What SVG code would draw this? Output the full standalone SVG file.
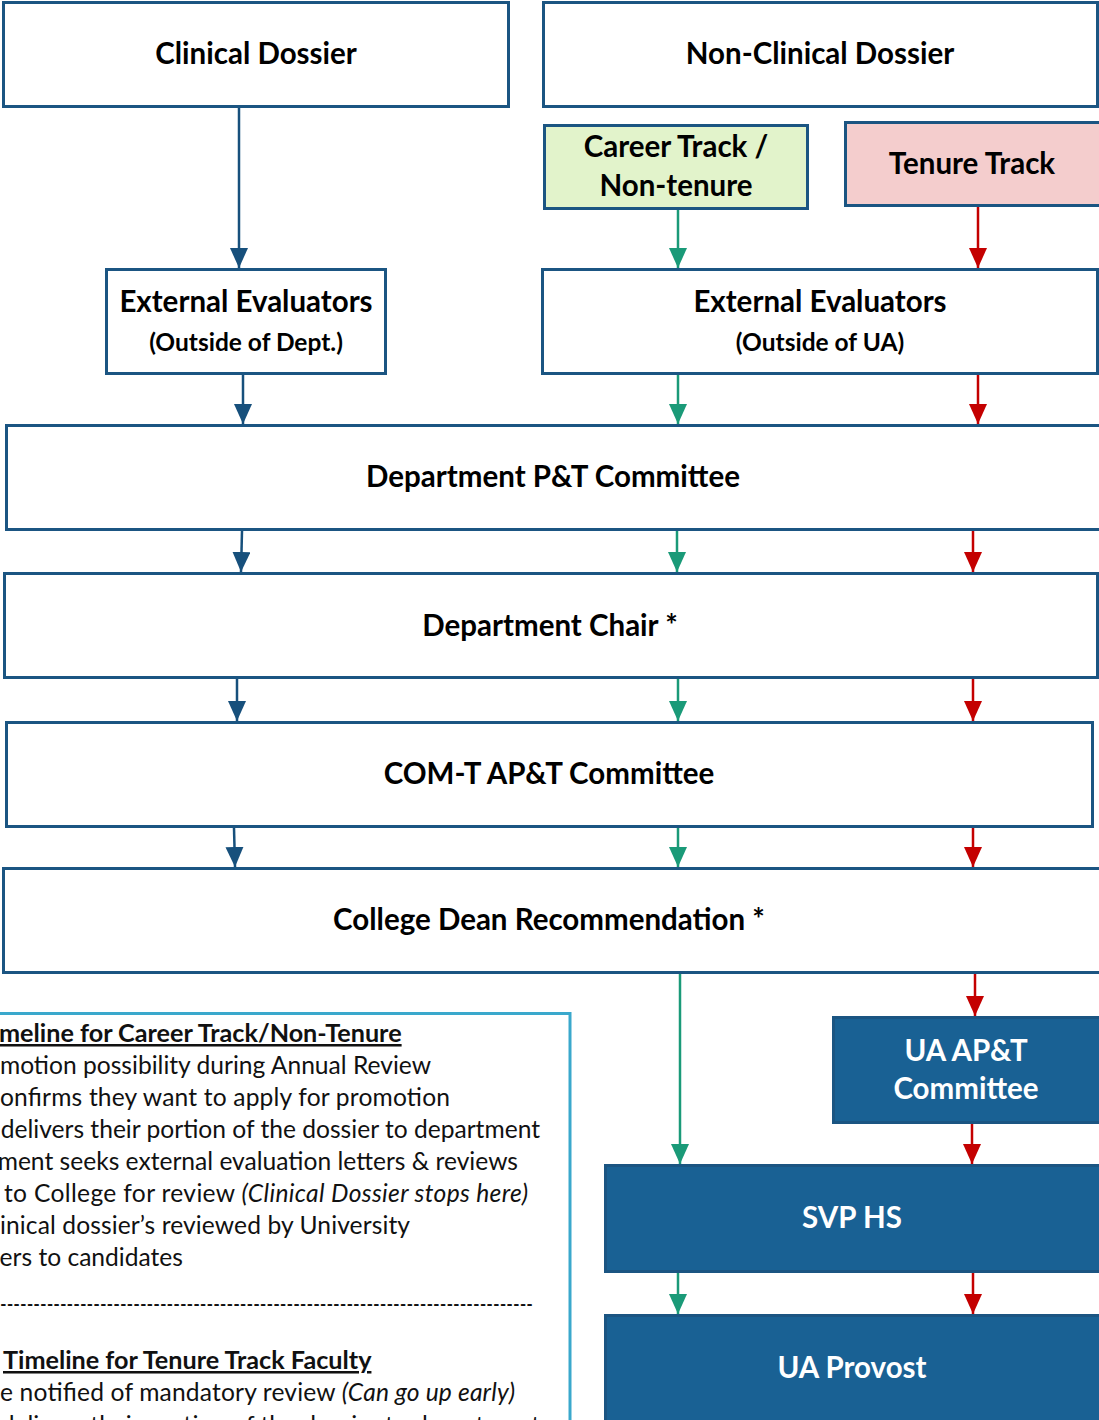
<svg xmlns="http://www.w3.org/2000/svg" width="1099" height="1420" viewBox="0 0 1099 1420">
<style>
.box{fill:#ffffff;stroke:#1b5582;stroke-width:3}
.dark{fill:#196194;stroke:#1b5582;stroke-width:3}
.t{font-family:Lato,"Open Sans",sans-serif;font-weight:bold;font-size:29.5px;fill:#000;text-anchor:middle}
.s{font-family:Lato,"Open Sans",sans-serif;font-weight:bold;font-size:24.5px;fill:#000;text-anchor:middle}
.w{fill:#ffffff}
.b{font-family:Lato,"Open Sans",sans-serif;font-size:24.6px;fill:#111;text-anchor:end}
.bh{font-family:Lato,"Open Sans",sans-serif;font-size:25.2px;font-weight:bold;fill:#111;text-decoration:underline}
.ab{stroke:#17507c;stroke-width:2.5;fill:none;marker-end:url(#mb)}
.ag{stroke:#1a9a78;stroke-width:2.5;fill:none;marker-end:url(#mg)}
.ar{stroke:#c40000;stroke-width:2.5;fill:none;marker-end:url(#mr)}
</style>
<defs>
<marker id="mb" markerUnits="userSpaceOnUse" markerWidth="20" markerHeight="18" refX="20" refY="9" orient="auto" viewBox="0 0 20 18"><path d="M0,0 L20,9 L0,18 z" fill="#17507c"/></marker>
<marker id="mg" markerUnits="userSpaceOnUse" markerWidth="20" markerHeight="18" refX="20" refY="9" orient="auto" viewBox="0 0 20 18"><path d="M0,0 L20,9 L0,18 z" fill="#1a9a78"/></marker>
<marker id="mr" markerUnits="userSpaceOnUse" markerWidth="20" markerHeight="18" refX="20" refY="9" orient="auto" viewBox="0 0 20 18"><path d="M0,0 L20,9 L0,18 z" fill="#c40000"/></marker>
</defs>

<g id="clinical-dossier"><rect class="box" x="3.5" y="2.5" width="505" height="104"/><text class="t" x="256" y="64">Clinical Dossier</text></g>
<g id="non-clinical-dossier"><rect class="box" x="543.5" y="2.5" width="554" height="104"/><text class="t" x="820" y="64">Non-Clinical Dossier</text></g>
<g id="career-track"><rect x="544.5" y="125.5" width="263" height="83" fill="#e2f3cb" stroke="#1b5582" stroke-width="3"/><text class="t" x="676" y="157">Career Track /</text><text class="t" x="676" y="196">Non-tenure</text></g>
<g id="tenure-track"><rect x="845.5" y="122.5" width="256" height="83" fill="#f4cdcd" stroke="#1b5582" stroke-width="3"/><text class="t" x="972" y="174">Tenure Track</text></g>
<g id="ext-eval-dept"><rect class="box" x="106.5" y="269.5" width="279" height="104"/><text class="t" x="246" y="312">External Evaluators</text><text class="s" x="246" y="351">(Outside of Dept.)</text></g>
<g id="ext-eval-ua"><rect class="box" x="542.5" y="269.5" width="555" height="104"/><text class="t" x="820" y="312">External Evaluators</text><text class="s" x="820" y="351">(Outside of UA)</text></g>
<g id="dept-pt"><rect class="box" x="6.5" y="425.5" width="1098" height="104"/><text class="t" x="553" y="487">Department P&amp;T Committee</text></g>
<g id="dept-chair"><rect class="box" x="4.5" y="573.5" width="1093" height="104"/><text class="t" x="550" y="636">Department Chair *</text></g>
<g id="comt-apt"><rect class="box" x="6.5" y="722.5" width="1086" height="104"/><text class="t" x="549" y="784">COM-T AP&amp;T Committee</text></g>
<g id="college-dean"><rect class="box" x="3.5" y="868.5" width="1100" height="104"/><text class="t" x="549" y="930">College Dean Recommendation *</text></g>
<g id="ua-apt"><rect class="dark" x="833.5" y="1017.5" width="270" height="105"/><text class="t w" x="966" y="1061">UA AP&amp;T</text><text class="t w" x="966" y="1099">Committee</text></g>
<g id="svp-hs"><rect class="dark" x="605.5" y="1165.5" width="498" height="106"/><text class="t w" x="852" y="1228">SVP HS</text></g>
<g id="ua-provost"><rect class="dark" x="605.5" y="1315.5" width="498" height="110"/><text class="t w" x="852" y="1378">UA Provost</text></g>

<g id="timeline-note">
<rect x="-10" y="1013.5" width="580" height="420" fill="#fff" stroke="#3aa8cc" stroke-width="3"/>
<text class="bh" x="-1" y="1042">meline for Career Track/Non-Tenure</text>
<text class="b" x="431" y="1074">motion possibility during Annual Review</text>
<text class="b" x="450" y="1106" textLength="450">onfirms they want to apply for promotion</text>
<text class="b" x="540" y="1138">delivers their portion of the dossier to department</text>
<text class="b" x="518" y="1170">ment seeks external evaluation letters &amp; reviews</text>
<text class="b" x="528" y="1202" textLength="524">to College for review <tspan font-style="italic">(Clinical Dossier stops here)</tspan></text>
<text class="b" x="410" y="1234" textLength="410">inical dossier’s reviewed by University</text>
<text class="b" x="183" y="1266">ers to candidates</text>
<text class="b" x="533" y="1313" textLength="533" lengthAdjust="spacingAndGlyphs">--------------------------------------------------------------------------------</text>
<text class="bh" x="3" y="1369">Timeline for Tenure Track Faculty</text>
<text class="b" x="515" y="1401" textLength="515">e notified of mandatory review <tspan font-style="italic">(Can go up early)</tspan></text>
<text class="b" x="540" y="1434">delivers their portion of the dossier to department</text>
</g>

<g id="connectors">
<line class="ab" x1="239" y1="108" x2="239" y2="268"/>
<line class="ab" x1="243" y1="375" x2="243" y2="424"/>
<line class="ab" x1="242" y1="531" x2="241" y2="572"/>
<line class="ab" x1="237" y1="679" x2="237" y2="721"/>
<line class="ab" x1="234" y1="828" x2="235" y2="867"/>
<line class="ag" x1="678" y1="210" x2="678" y2="268"/>
<line class="ag" x1="678" y1="375" x2="678" y2="424"/>
<line class="ag" x1="677" y1="531" x2="677" y2="572"/>
<line class="ag" x1="678" y1="679" x2="678" y2="721"/>
<line class="ag" x1="678" y1="828" x2="678" y2="867"/>
<line class="ag" x1="680" y1="974" x2="680" y2="1164"/>
<line class="ag" x1="678" y1="1273" x2="678" y2="1314"/>
<line class="ar" x1="978" y1="207" x2="978" y2="268"/>
<line class="ar" x1="978" y1="375" x2="978" y2="424"/>
<line class="ar" x1="973" y1="531" x2="973" y2="572"/>
<line class="ar" x1="973" y1="679" x2="973" y2="721"/>
<line class="ar" x1="973" y1="828" x2="973" y2="867"/>
<line class="ar" x1="975" y1="974" x2="975" y2="1016"/>
<line class="ar" x1="972" y1="1124" x2="972" y2="1164"/>
<line class="ar" x1="973" y1="1273" x2="973" y2="1314"/>
</g>
</svg>
